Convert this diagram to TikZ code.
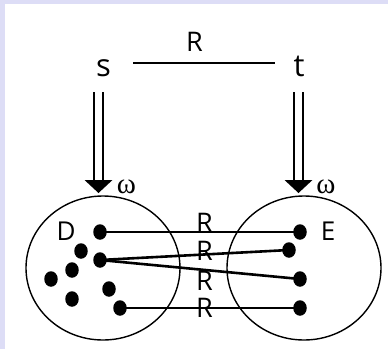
\documentclass[tikz,border=0pt]{standalone}
\usepackage{fontspec}
\setmainfont{Open Sans}
\newfontfamily\omegafont{Liberation Serif}
\usetikzlibrary{shapes.geometric}
\definecolor{lav}{RGB}{221,221,246}
\begin{document}
\begin{tikzpicture}[x=1pt,y=-1pt,
  lbl/.style={inner sep=0pt,anchor=base,font=\fontsize{27}{27}\selectfont},
  big/.style={inner sep=0pt,anchor=base,font=\fontsize{31}{31}\selectfont},
  sublbl/.style={inner sep=0pt,anchor=base,font=\fontsize{26}{26}\selectfont},
  omg/.style={inner sep=0pt,anchor=base,font=\omegafont\fontsize{29}{29}\selectfont},
  setc/.style={draw,ellipse,line width=1.4pt,minimum width=154pt,minimum height=144pt,inner sep=0pt},
  dot/.style={fill=black,ellipse,minimum width=13.5pt,minimum height=15.5pt,inner sep=0pt},
  link/.style={line width=2.6pt},
  shaft/.style={line width=1.1pt},
  head/.style={fill=black}
]
\useasboundingbox (0,0) rectangle (388,349);
\fill[lav] (0,0) rectangle (388,349);
\fill[white] (5,4) rectangle (388,349);

% top labels
\node[big] (s) at (103.5,76) {s};
\node[big] (t) at (299,76) {t};
\node[lbl] (Rtop) at (194.5,51.5) {R};
\coordinate (stL) at (133,63);
\coordinate (stR) at (275,63);
\draw[line width=1.8pt] (stL) -- (stR);

% sets
\node[setc] (cD) at (103,268) {};
\node[setc] (cE) at (304,268) {};
\node[sublbl] (D) at (66,240) {D};
\node[sublbl] (E) at (328,240) {E};

% double arrows
\coordinate (aLs) at (98.5,92);
\coordinate (aLh) at (98.5,180);
\coordinate (aLt) at (98.5,193);
\draw[shaft] ([xshift=-4.5pt]aLs) -- ([xshift=-4.5pt]aLh);
\draw[shaft] ([xshift=4.5pt]aLs) -- ([xshift=4.5pt]aLh);
\fill[head] ([xshift=-14pt]aLh) -- ([xshift=14pt]aLh) -- (aLt) -- cycle;
\coordinate (aRs) at (298.5,92);
\coordinate (aRh) at (298.5,180);
\coordinate (aRt) at (298.5,193);
\draw[shaft] ([xshift=-4.5pt]aRs) -- ([xshift=-4.5pt]aRh);
\draw[shaft] ([xshift=4.5pt]aRs) -- ([xshift=4.5pt]aRh);
\fill[head] ([xshift=-14pt]aRh) -- ([xshift=14pt]aRh) -- (aRt) -- cycle;
\node[omg] (wL) at (126.5,193) {ω};
\node[omg] (wR) at (326,193) {ω};

% dots in D
\node[dot] (d1) at (100,232) {};
\node[dot] (d2) at (81,251) {};
\node[dot] (d3) at (100,260) {};
\node[dot] (d4) at (72,270) {};
\node[dot] (d5) at (51,279) {};
\node[dot] (d6) at (109,289) {};
\node[dot] (d7) at (72,299) {};
\node[dot] (d8) at (120,308) {};
% dots in E
\node[dot] (e1) at (300,232) {};
\node[dot] (e2) at (289,250) {};
\node[dot] (e3) at (300,279) {};
\node[dot] (e4) at (300,308) {};

% relations
\draw[link] (d1.center) -- (e1.center);
\draw[link] (d3.center) -- (e2.center);
\draw[link] (d3.center) -- (e3.center);
\draw[link] (d8.center) -- (e4.center);
\node[lbl] (R1) at (204.5,232) {R};
\node[lbl] (R2) at (204.5,260) {R};
\node[lbl] (R3) at (204.5,290) {R};
\node[lbl] (R4) at (204.5,317) {R};
\end{tikzpicture}
\end{document}
